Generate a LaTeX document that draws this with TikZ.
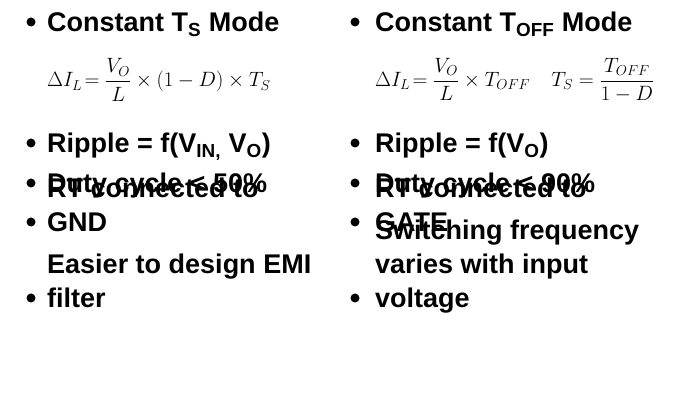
\documentclass[tikz,border=0pt]{standalone}
\usepackage{amsmath}
\usepackage{fontspec}
\setmainfont{Liberation Sans}
\begin{document}
\begin{tikzpicture}[x=1pt,y=-1pt,
  txt/.style={anchor=base west,font=\fontsize{27}{34}\selectfont\bfseries,align=left,inner sep=0pt},
  eq/.style={anchor=west,font=\fontsize{21}{24}\selectfont,inner sep=0pt},
  bul/.style={circle,fill=black,inner sep=0pt,minimum size=9pt}]
\useasboundingbox (0,0) rectangle (681,403);
\node[bul] (b1) at (31,22) {};
\node[txt] (t1) at (47,32) {Constant T\textsubscript{S} Mode};
\node[eq] (e1) at (47,80) {$\Delta I_L\!=\dfrac{V_O}{L}\times(1-D)\times T_S$};
\node[bul] (b2) at (31,143) {};
\node[txt] (t2) at (47,153) {Ripple = f(V\textsubscript{IN,} V\textsubscript{O})};
\node[bul] (b3) at (31,183) {};
\node[txt] (t3) at (47,193) {Duty cycle < 50\%};
\node[bul] (b4) at (31,222) {};
\node[txt] (t4) at (47,232) {RT connected to\\GND};
\node[bul] (b5) at (31,298) {};
\node[txt] (t5) at (47,308) {Easier to design EMI\\filter};
\node[bul] (c1) at (355,22) {};
\node[txt] (u1) at (375,32) {Constant T\textsubscript{OFF} Mode};
\node[eq] (f1) at (375,80) {$\Delta I_L\!=\dfrac{V_O}{L}\times T_{OFF}\quad T_S=\dfrac{T_{OFF}}{1-D}$};
\node[bul] (c2) at (355,143) {};
\node[txt] (u2) at (375,153) {Ripple = f(V\textsubscript{O})};
\node[bul] (c3) at (355,183) {};
\node[txt] (u3) at (375,193) {Duty cycle < 90\%};
\node[bul] (c4) at (355,222) {};
\node[txt] (u4) at (375,232) {RT connected to\\GATE};
\node[bul] (c5) at (355,298) {};
\node[txt] (u5) at (375,308) {Switching frequency\\varies with input\\voltage};
\end{tikzpicture}
\end{document}
